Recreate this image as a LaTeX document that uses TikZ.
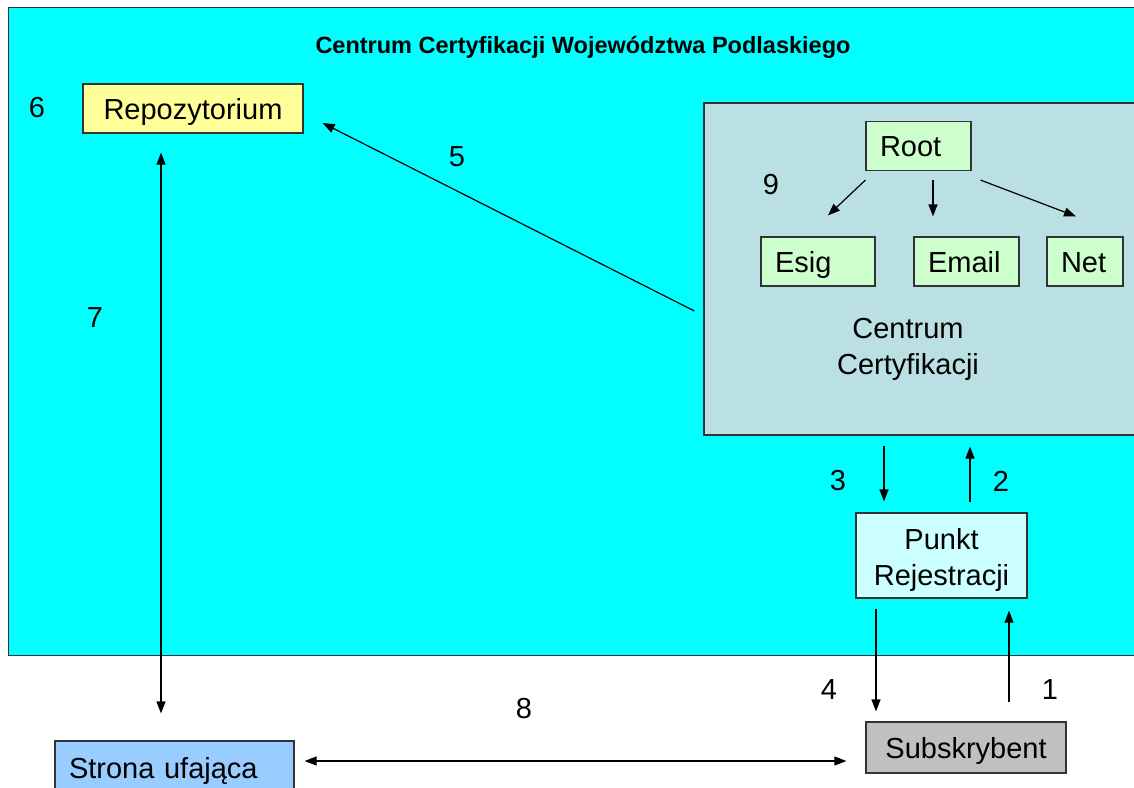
\documentclass[tikz,border=0pt]{standalone}
\usepackage{fontspec}
\setmainfont{Liberation Sans}
\usetikzlibrary{arrows.meta,positioning,calc}
\definecolor{FrameCyan}{HTML}{00FFFF}
\definecolor{CaGray}{HTML}{BBE0E3}
\definecolor{RepoYellow}{HTML}{FFFF99}
\definecolor{KeyGreen}{HTML}{CCFFCC}
\definecolor{PointCyan}{HTML}{CCFFFF}
\definecolor{SubGray}{HTML}{C0C0C0}
\definecolor{PartyBlue}{HTML}{99CCFF}
\definecolor{EdgeInk}{HTML}{333333}
\tikzset{
  pkibox/.style={draw=EdgeInk,line width=1.2pt,align=center,
    font=\fontsize{29}{36}\selectfont,inner sep=0pt},
  onerow/.style={text height=21pt,text depth=0pt},
  keybox/.style={pkibox,onerow,fill=KeyGreen,minimum height=49pt,inner xsep=14pt,align=left},
  numlabel/.style={font=\fontsize{29}{36}\selectfont,inner sep=0pt},
  pkiarrow/.style={-{Triangle[length=12pt,width=9pt]},line width=1.2pt,draw=black},
  pkidbl/.style={{Triangle[length=12pt,width=9pt]}-{Triangle[length=12pt,width=9pt]},
    line width=1.2pt,draw=black}
}

\begin{document}
\begin{tikzpicture}[x=1pt,y=-1pt]
  \useasboundingbox (0,0) rectangle (1134,787);
  \fill[white] (0,0) rectangle (1134,787);
  \node[draw=EdgeInk,line width=1.2pt,fill=FrameCyan,minimum width=1140pt,
    minimum height=648pt,inner sep=0pt,anchor=north west] (frame) at (8,7) {};
  \node[font=\fontsize{23.5}{28}\selectfont\bfseries,inner sep=0pt] (title) at (583,47)
    {Centrum Certyfikacji Województwa Podlaskiego};

  \node[pkibox,onerow,fill=RepoYellow,minimum width=220pt,minimum height=49pt] (repo) at (193,108.5) {Repozytorium};
  \node[pkibox,fill=CaGray,minimum width=450pt,minimum height=332pt] (ca) at (929,269) {};
  \node[keybox,text width=77pt] (root) at (918.5,146) {Root};
  \node[keybox,text width=86pt] (esig) at (818,261.5) {Esig};
  \node[keybox,text width=77pt] (email) at (966.5,261.5) {Email};
  \node[keybox,text width=48pt] (net) at (1085,261.5) {Net};
  \node[numlabel,align=center] (calabel) at (908,349) {Centrum\\Certyfikacji};

  \node[pkibox,fill=PointCyan,minimum width=171pt,minimum height=85pt] (punkt) at (941.5,555.5)
    {\rule{0pt}{30pt}Punkt\\Rejestracji};
  \node[pkibox,onerow,fill=SubGray,minimum width=200pt,minimum height=51pt] (subs) at (966,747.5) {Subskrybent};
  \node[pkibox,onerow,fill=PartyBlue,text width=211pt,inner xsep=14pt,align=left,
    minimum height=54pt] (strona) at (174.5,768) {Strona ufająca};

  % numbers of the steps
  \node[numlabel] (n6) at (37,108) {6};
  \node[numlabel] (n5) at (457,157) {5};
  \node[numlabel] (n9) at (771,185) {9};
  \node[numlabel] (n7) at (95,318) {7};
  \node[numlabel] (n3) at (838,481) {3};
  \node[numlabel] (n2) at (1001,481) {2};
  \node[numlabel] (n4) at (829,690) {4};
  \node[numlabel] (n1) at (1050,690) {1};
  \node[numlabel] (n8) at (524,709) {8};

  \draw[pkiarrow] ([xshift=0pt,yshift=-9pt]root.south west) -- ([xshift=10pt,yshift=21pt]esig.north);
  \draw[pkiarrow] ([xshift=14.5pt,yshift=-9pt]root.south) -- ([xshift=-33.5pt,yshift=20pt]email.north);
  \draw[pkiarrow] ([xshift=9pt,yshift=-9pt]root.south east) -- ([xshift=-9pt,yshift=20pt]net.north);
  \draw[pkiarrow] ([xshift=-9pt,yshift=-42pt]ca.west) -- ([xshift=19pt,yshift=-14.5pt]repo.east);
  \draw[pkidbl] ([xshift=-32pt,yshift=-19pt]repo.south) -- ([xshift=-13.5pt,yshift=27pt]strona.north);
  \draw[pkidbl] ([xshift=10pt,yshift=7pt]strona.east) -- ([xshift=-19pt,yshift=-13.5pt]subs.west);
  \draw[pkiarrow] ([xshift=-45pt,yshift=-10pt]ca.south) -- ([xshift=-57.5pt,yshift=11pt]punkt.north);
  \draw[pkiarrow] ([xshift=28.5pt,yshift=10pt]punkt.north) -- ([xshift=41pt,yshift=-11pt]ca.south);
  \draw[pkiarrow] ([xshift=-65.5pt,yshift=-10pt]punkt.south) -- ([xshift=-90pt,yshift=10pt]subs.north);
  \draw[pkiarrow] ([xshift=43pt,yshift=19pt]subs.north) -- ([xshift=67.5pt,yshift=-12pt]punkt.south);
\end{tikzpicture}
\end{document}
